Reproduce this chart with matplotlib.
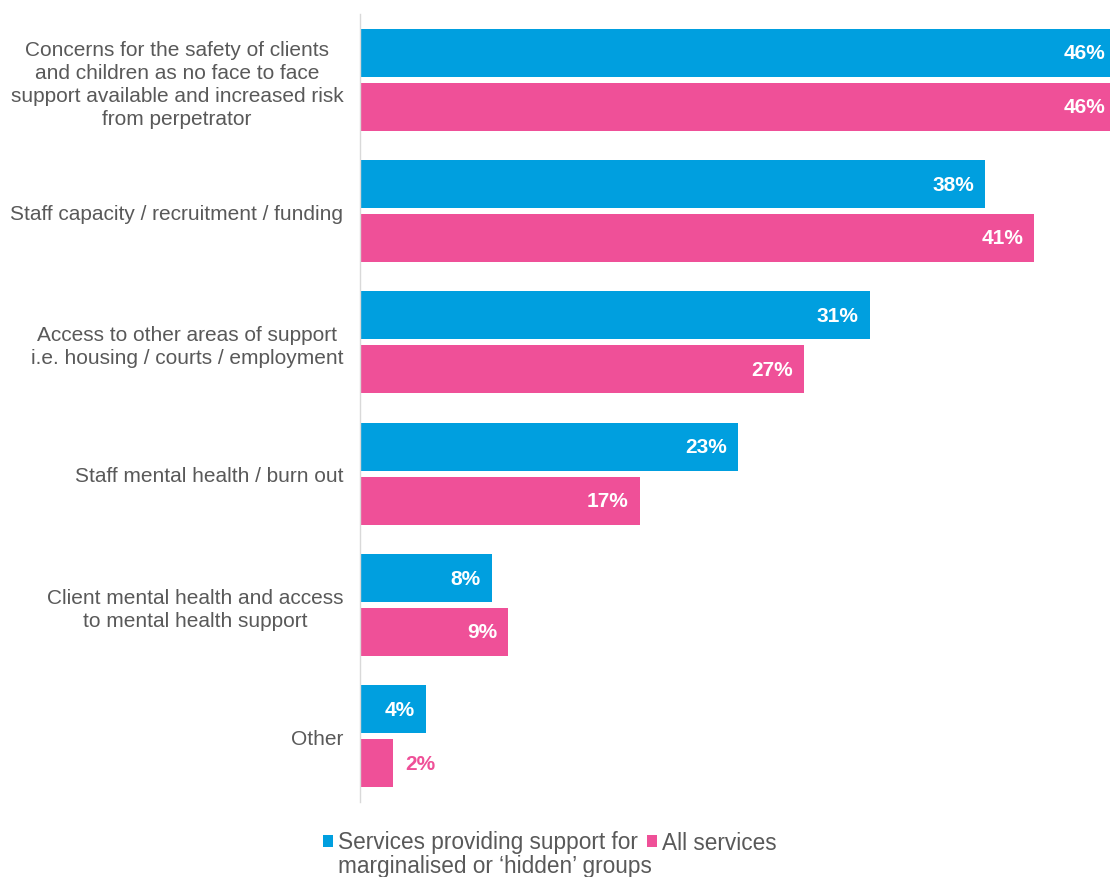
import matplotlib
matplotlib.use("Agg")
import matplotlib.pyplot as plt
from matplotlib.patches import Rectangle
import numpy as np

plt.rcParams['font.family'] = ['Liberation Sans', 'DejaVu Sans']

categories = [
    "Concerns for the safety of clients\nand children as no face to face\nsupport available and increased risk\nfrom perpetrator",
    "Staff capacity / recruitment / funding",
    "Access to other areas of support\ni.e. housing / courts / employment",
    "Staff mental health / burn out",
    "Client mental health and access\nto mental health support",
    "Other",
]
marginalised = [46, 38, 31, 23, 8, 4]
all_services = [46, 41, 27, 17, 9, 2]
series_names = ["Services providing support for\nmarginalised or \u2018hidden\u2019 groups", "All services"]

BLUE = "#009FDF"
PINK = "#EF5098"
GREY = "#595959"

fig = plt.figure(figsize=(11.10, 8.78), dpi=100)
ax = fig.add_axes([360 / 1110, 1 - 803 / 878, 750 / 1110, 788 / 878])

y = np.arange(len(categories))
off = 0.205
h = 0.366
b1 = ax.barh(y - off, marginalised, height=h, color=BLUE, edgecolor="none")
b2 = ax.barh(y + off, all_services, height=h, color=PINK, edgecolor="none")

ax.set_xlim(0, 45.6)
ax.set_ylim(len(categories) - 0.5, -0.5)

ax.set_yticks(y)
ax.set_yticklabels(categories, fontsize=15, color=GREY, multialignment="center",
                   linespacing=1.27)
ax.tick_params(axis="y", length=0, pad=12)
ax.set_xticks([])
for s in ["top", "right", "bottom"]:
    ax.spines[s].set_visible(False)
ax.spines["left"].set_color("#D9D9D9")
ax.spines["left"].set_linewidth(1.0)


def label_bars(bars, values, color):
    for bar, v in zip(bars, values):
        cy = bar.get_y() + bar.get_height() / 2
        if v >= 3:
            ax.annotate(f"{v}%", xy=(v, cy), xytext=(-8, 0), textcoords="offset points",
                        ha="right", va="center", fontsize=15, fontweight="bold",
                        color="white", annotation_clip=False, clip_on=False)
        else:
            ax.annotate(f"{v}%", xy=(v, cy), xytext=(9, 0), textcoords="offset points",
                        ha="left", va="center", fontsize=15, fontweight="bold",
                        color=color, annotation_clip=False, clip_on=False)


label_bars(b1, marginalised, BLUE)
label_bars(b2, all_services, PINK)

# legend drawn in figure pixels
W, H = 1110, 878


def legend_item(x, ytop, color, text):
    fig.patches.append(Rectangle((x / W, 1 - (ytop + 12) / H), 10 / W, 12 / H,
                                 transform=fig.transFigure, facecolor=color,
                                 edgecolor="none"))
    nlines = text.count("\n") + 1
    base = 850 + 23 * (nlines - 1)
    fig.text((x + 15) / W, 1 - base / H, text, fontsize=16.3, color=GREY,
             ha="left", va="baseline", linespacing=1.08)


legend_item(323, 836, BLUE, series_names[0])
legend_item(647, 836, PINK, series_names[1])

fig.savefig("out.png", dpi=100)
